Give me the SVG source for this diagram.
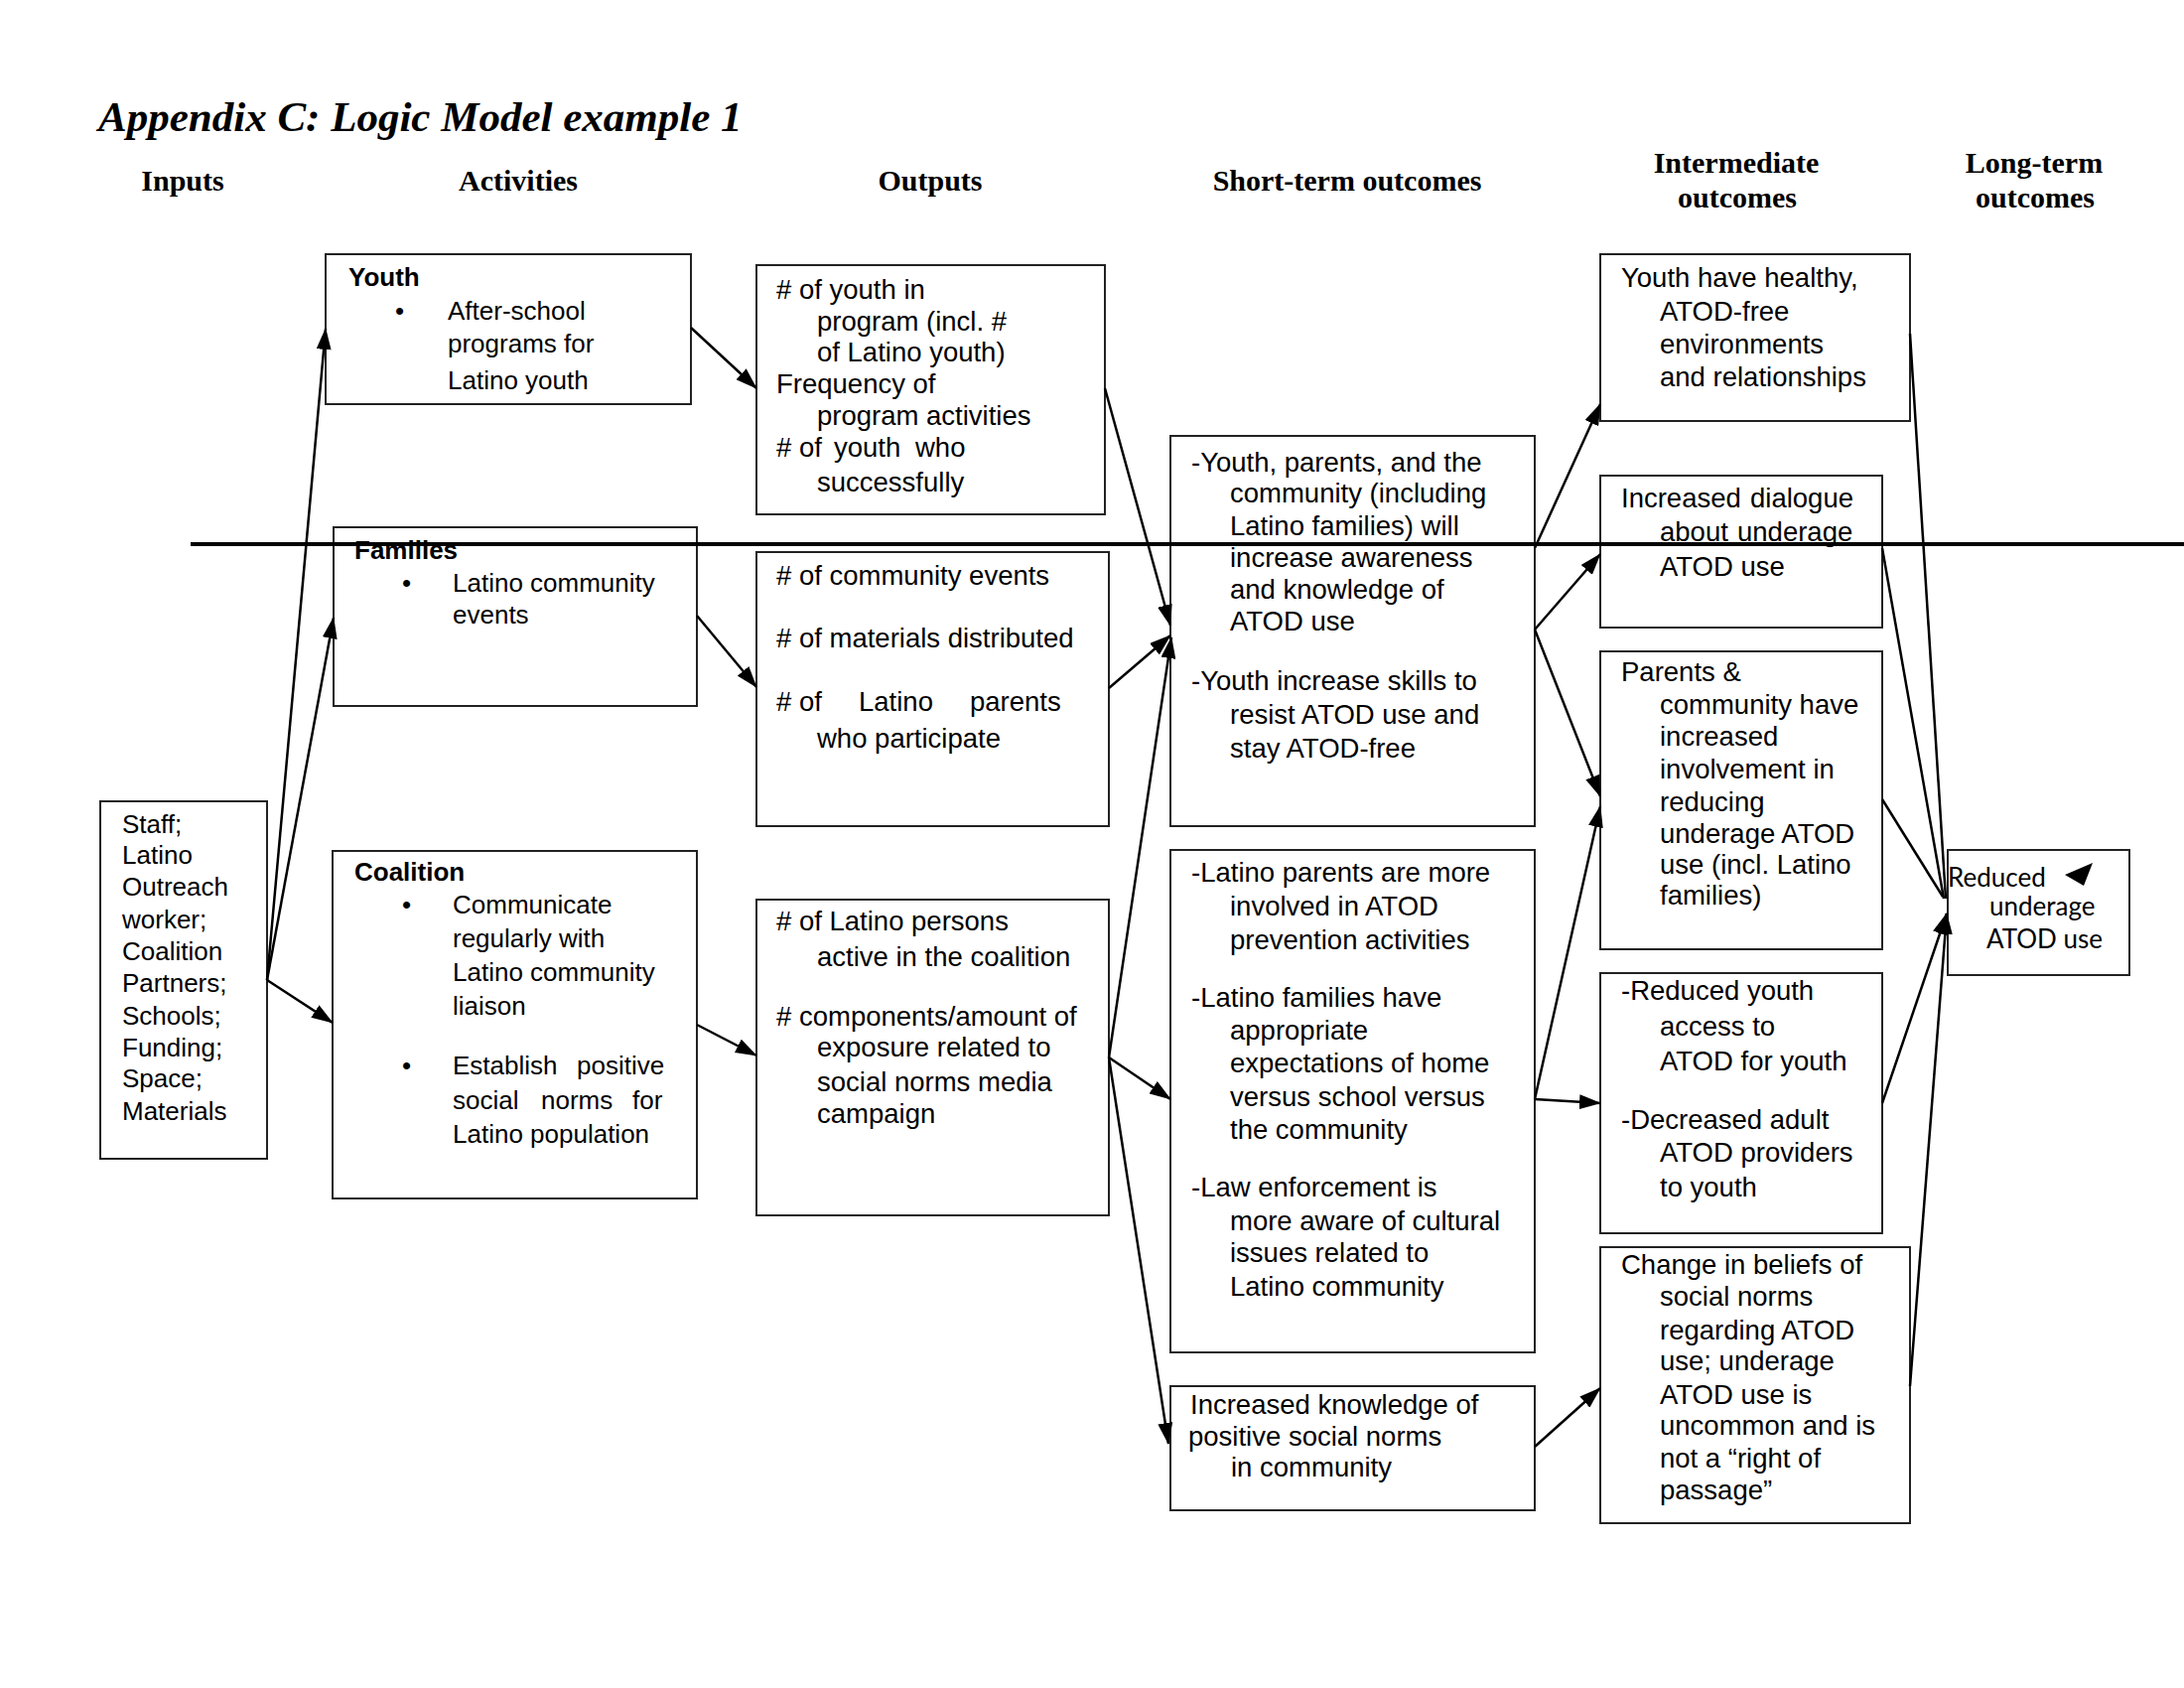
<svg xmlns="http://www.w3.org/2000/svg" width="2200" height="1700" viewBox="0 0 2200 1700">
<style>
.bg{fill:#fff}
.box{fill:#fff;stroke:#222;stroke-width:2}
.t{font-family:"Liberation Sans",Arial,sans-serif;font-size:27.5px;fill:#000}
.ta{font-family:"Liberation Sans",Arial,sans-serif;font-size:26px;fill:#000}
.tb{font-family:"Liberation Sans",Arial,sans-serif;font-size:26px;font-weight:bold;fill:#000}
.tl{font-family:Lato,"Liberation Sans",sans-serif;font-size:26px;fill:#000}
.h{font-family:"Liberation Serif","Times New Roman",serif;font-size:30px;font-weight:bold;fill:#000;text-anchor:middle}
.title{font-family:"Liberation Serif","Times New Roman",serif;font-size:43px;font-weight:bold;font-style:italic;fill:#000}
.c{stroke:#000;stroke-width:2.5;fill:none}
.ca{stroke:#000;stroke-width:2.5;fill:none;marker-end:url(#ah)}
</style>
<defs>
<marker id="ah" markerWidth="22" markerHeight="15" refX="21" refY="7.5" orient="auto" markerUnits="userSpaceOnUse">
<path d="M0,0 L22,7.5 L0,15 z" fill="#000"/>
</marker>
</defs>
<rect class="bg" x="0" y="0" width="2200" height="1700"/>

<g id="headers">
<text class="title" x="99" y="132">Appendix C: Logic Model example 1</text>
<text class="h" x="184" y="192">Inputs</text>
<text class="h" x="522" y="192">Activities</text>
<text class="h" x="937" y="192">Outputs</text>
<text class="h" x="1357" y="192">Short-term outcomes</text>
<text class="h" x="1749" y="174">Intermediate</text>
<text class="h" x="1750" y="209">outcomes</text>
<text class="h" x="2049" y="174">Long-term</text>
<text class="h" x="2050" y="209">outcomes</text>
</g>

<g id="inputs">
<rect class="box" x="101" y="807" width="168" height="360"/>
<text class="ta" x="123" y="839">Staff;</text>
<text class="ta" x="123" y="870">Latino</text>
<text class="ta" x="123" y="902">Outreach</text>
<text class="ta" x="123" y="935">worker;</text>
<text class="ta" x="123" y="967">Coalition</text>
<text class="ta" x="123" y="999">Partners;</text>
<text class="ta" x="123" y="1032">Schools;</text>
<text class="ta" x="123" y="1064">Funding;</text>
<text class="ta" x="123" y="1095">Space;</text>
<text class="ta" x="123" y="1128">Materials</text>
</g>

<g id="act-youth">
<rect class="box" x="328" y="256" width="368" height="151"/>
<text class="tb" x="351" y="288">Youth</text>
<text class="ta" x="398" y="322">•</text>
<text class="ta" x="451" y="322">After-school</text>
<text class="ta" x="451" y="355">programs for</text>
<text class="ta" x="451" y="392">Latino youth</text>
</g>

<g id="act-families">
<rect class="box" x="336" y="531" width="366" height="180"/>
<text class="tb" x="357" y="563">Families</text>
<text class="ta" x="405" y="596">•</text>
<text class="ta" x="456" y="596">Latino community</text>
<text class="ta" x="456" y="628">events</text>
</g>

<g id="act-coalition">
<rect class="box" x="335" y="857" width="367" height="350"/>
<text class="tb" x="357" y="887">Coalition</text>
<text class="ta" x="405" y="920">•</text>
<text class="ta" x="456" y="920">Communicate</text>
<text class="ta" x="456" y="954">regularly with</text>
<text class="ta" x="456" y="988">Latino community</text>
<text class="ta" x="456" y="1022">liaison</text>
<text class="ta" x="405" y="1082">•</text>
<text class="ta" y="1082"><tspan x="456">Establish</tspan><tspan x="581">positive</tspan></text>
<text class="ta" y="1117"><tspan x="456">social</tspan><tspan x="545">norms</tspan><tspan x="637">for</tspan></text>
<text class="ta" x="456" y="1151">Latino population</text>
</g>

<g id="out-youth">
<rect class="box" x="762" y="267" width="351" height="251"/>
<text class="t" x="782" y="301"># of youth in</text>
<text class="t" x="823" y="333">program (incl. #</text>
<text class="t" x="823" y="364">of Latino youth)</text>
<text class="t" x="782" y="396">Frequency of</text>
<text class="t" x="823" y="428">program activities</text>
<text class="t" y="460"><tspan x="782"># of</tspan><tspan x="840">youth</tspan><tspan x="922">who</tspan></text>
<text class="t" x="823" y="495">successfully</text>
</g>

<g id="out-families">
<rect class="box" x="762" y="556" width="355" height="276"/>
<text class="t" x="782" y="589"># of community events</text>
<text class="t" x="782" y="652"># of materials distributed</text>
<text class="t" y="716"><tspan x="782"># of</tspan><tspan x="865">Latino</tspan><tspan x="977">parents</tspan></text>
<text class="t" x="823" y="753">who participate</text>
</g>

<g id="out-coalition">
<rect class="box" x="762" y="906" width="355" height="318"/>
<text class="t" x="782" y="937"># of Latino persons</text>
<text class="t" x="823" y="973">active in the coalition</text>
<text class="t" x="782" y="1033"># components/amount of</text>
<text class="t" x="823" y="1064">exposure related to</text>
<text class="t" x="823" y="1099">social norms media</text>
<text class="t" x="823" y="1131">campaign</text>
</g>

<g id="st-1">
<rect class="box" x="1179" y="439" width="367" height="393"/>
<text class="t" x="1200" y="475">-Youth, parents, and the</text>
<text class="t" x="1239" y="506">community (including</text>
<text class="t" x="1239" y="539">Latino families) will</text>
<text class="t" x="1239" y="571">increase awareness</text>
<text class="t" x="1239" y="603">and knowledge of</text>
<text class="t" x="1239" y="635">ATOD use</text>
<text class="t" x="1200" y="695">-Youth increase skills to</text>
<text class="t" x="1239" y="729">resist ATOD use and</text>
<text class="t" x="1239" y="763">stay ATOD-free</text>
</g>

<g id="st-2">
<rect class="box" x="1179" y="856" width="367" height="506"/>
<text class="t" x="1200" y="888">-Latino parents are more</text>
<text class="t" x="1239" y="922">involved in ATOD</text>
<text class="t" x="1239" y="956">prevention activities</text>
<text class="t" x="1200" y="1014">-Latino families have</text>
<text class="t" x="1239" y="1047">appropriate</text>
<text class="t" x="1239" y="1080">expectations of home</text>
<text class="t" x="1239" y="1114">versus school versus</text>
<text class="t" x="1239" y="1147">the community</text>
<text class="t" x="1200" y="1205">-Law enforcement is</text>
<text class="t" x="1239" y="1239">more aware of cultural</text>
<text class="t" x="1239" y="1271">issues related to</text>
<text class="t" x="1239" y="1305">Latino community</text>
</g>

<g id="st-3">
<rect class="box" x="1179" y="1396" width="367" height="125"/>
<text class="t" x="1199" y="1424">Increased knowledge of</text>
<text class="t" x="1197" y="1456">positive social norms</text>
<text class="t" x="1240" y="1487">in community</text>
</g>

<g id="int-1">
<rect class="box" x="1612" y="256" width="312" height="168"/>
<text class="t" x="1633" y="289">Youth have healthy,</text>
<text class="t" x="1672" y="323">ATOD-free</text>
<text class="t" x="1672" y="356">environments</text>
<text class="t" x="1672" y="389">and relationships</text>
</g>

<g id="int-2">
<rect class="box" x="1612" y="479" width="284" height="153"/>
<text class="t" y="511"><tspan x="1633">Increased</tspan><tspan x="1763">dialogue</tspan></text>
<text class="t" y="545"><tspan x="1672">about</tspan><tspan x="1750">underage</tspan></text>
<text class="t" x="1672" y="580">ATOD use</text>
</g>

<g id="int-3">
<rect class="box" x="1612" y="656" width="284" height="300"/>
<text class="t" x="1633" y="686">Parents &amp;</text>
<text class="t" x="1672" y="719">community have</text>
<text class="t" x="1672" y="751">increased</text>
<text class="t" x="1672" y="784">involvement in</text>
<text class="t" x="1672" y="817">reducing</text>
<text class="t" x="1672" y="849">underage ATOD</text>
<text class="t" x="1672" y="880">use (incl. Latino</text>
<text class="t" x="1672" y="911">families)</text>
</g>

<g id="int-4">
<rect class="box" x="1612" y="980" width="284" height="262"/>
<text class="t" x="1633" y="1007">-Reduced youth</text>
<text class="t" x="1672" y="1043">access to</text>
<text class="t" x="1672" y="1078">ATOD for youth</text>
<text class="t" x="1633" y="1137">-Decreased adult</text>
<text class="t" x="1672" y="1170">ATOD providers</text>
<text class="t" x="1672" y="1205">to youth</text>
</g>

<g id="int-5">
<rect class="box" x="1612" y="1256" width="312" height="278"/>
<text class="t" x="1633" y="1283">Change in beliefs of</text>
<text class="t" x="1672" y="1315">social norms</text>
<text class="t" x="1672" y="1349">regarding ATOD</text>
<text class="t" x="1672" y="1380">use; underage</text>
<text class="t" x="1672" y="1414">ATOD use is</text>
<text class="t" x="1672" y="1445">uncommon and is</text>
<text class="t" x="1672" y="1478">not a “right of</text>
<text class="t" x="1672" y="1510">passage”</text>
</g>

<g id="long-term">
<rect class="box" x="1962" y="856" width="183" height="126"/>
<text class="tl" x="1962" y="893">Reduced</text>
<text class="tl" x="2004" y="922">underage</text>
<text class="tl" x="2001" y="955">ATOD use</text>
<polygon points="2080,881 2108,869 2099,892" fill="#000"/>
</g>

<g id="connectors">
<line x1="192" y1="548" x2="2200" y2="548" stroke="#000" stroke-width="4"/>
<line class="ca" x1="269" y1="987" x2="328" y2="331"/>
<line class="ca" x1="269" y1="987" x2="336" y2="622"/>
<line class="ca" x1="269" y1="987" x2="335" y2="1030"/>
<line class="ca" x1="696" y1="330" x2="762" y2="391"/>
<line class="ca" x1="702" y1="620" x2="762" y2="692"/>
<line class="ca" x1="702" y1="1032" x2="762" y2="1063"/>
<line class="ca" x1="1113" y1="391" x2="1179" y2="630"/>
<line class="ca" x1="1117" y1="693" x2="1179" y2="640"/>
<line class="ca" x1="1117" y1="1065" x2="1180" y2="642"/>
<line class="ca" x1="1117" y1="1065" x2="1179" y2="1107"/>
<line class="ca" x1="1117" y1="1065" x2="1177" y2="1454"/>
<line class="ca" x1="1546" y1="552" x2="1612" y2="407"/>
<line class="ca" x1="1546" y1="634" x2="1612" y2="558"/>
<line class="ca" x1="1546" y1="634" x2="1612" y2="802"/>
<line class="ca" x1="1546" y1="1107" x2="1612" y2="812"/>
<line class="ca" x1="1546" y1="1107" x2="1612" y2="1111"/>
<line class="ca" x1="1546" y1="1457" x2="1612" y2="1398"/>
<line class="c" x1="1924" y1="336" x2="1960" y2="905"/>
<line class="c" x1="1896" y1="552" x2="1958" y2="905"/>
<line class="c" x1="1896" y1="805" x2="1957" y2="903"/>
<line class="ca" x1="1896" y1="1111" x2="1961" y2="920"/>
<line class="ca" x1="1924" y1="1396" x2="1961" y2="920"/>
</g>
</svg>
